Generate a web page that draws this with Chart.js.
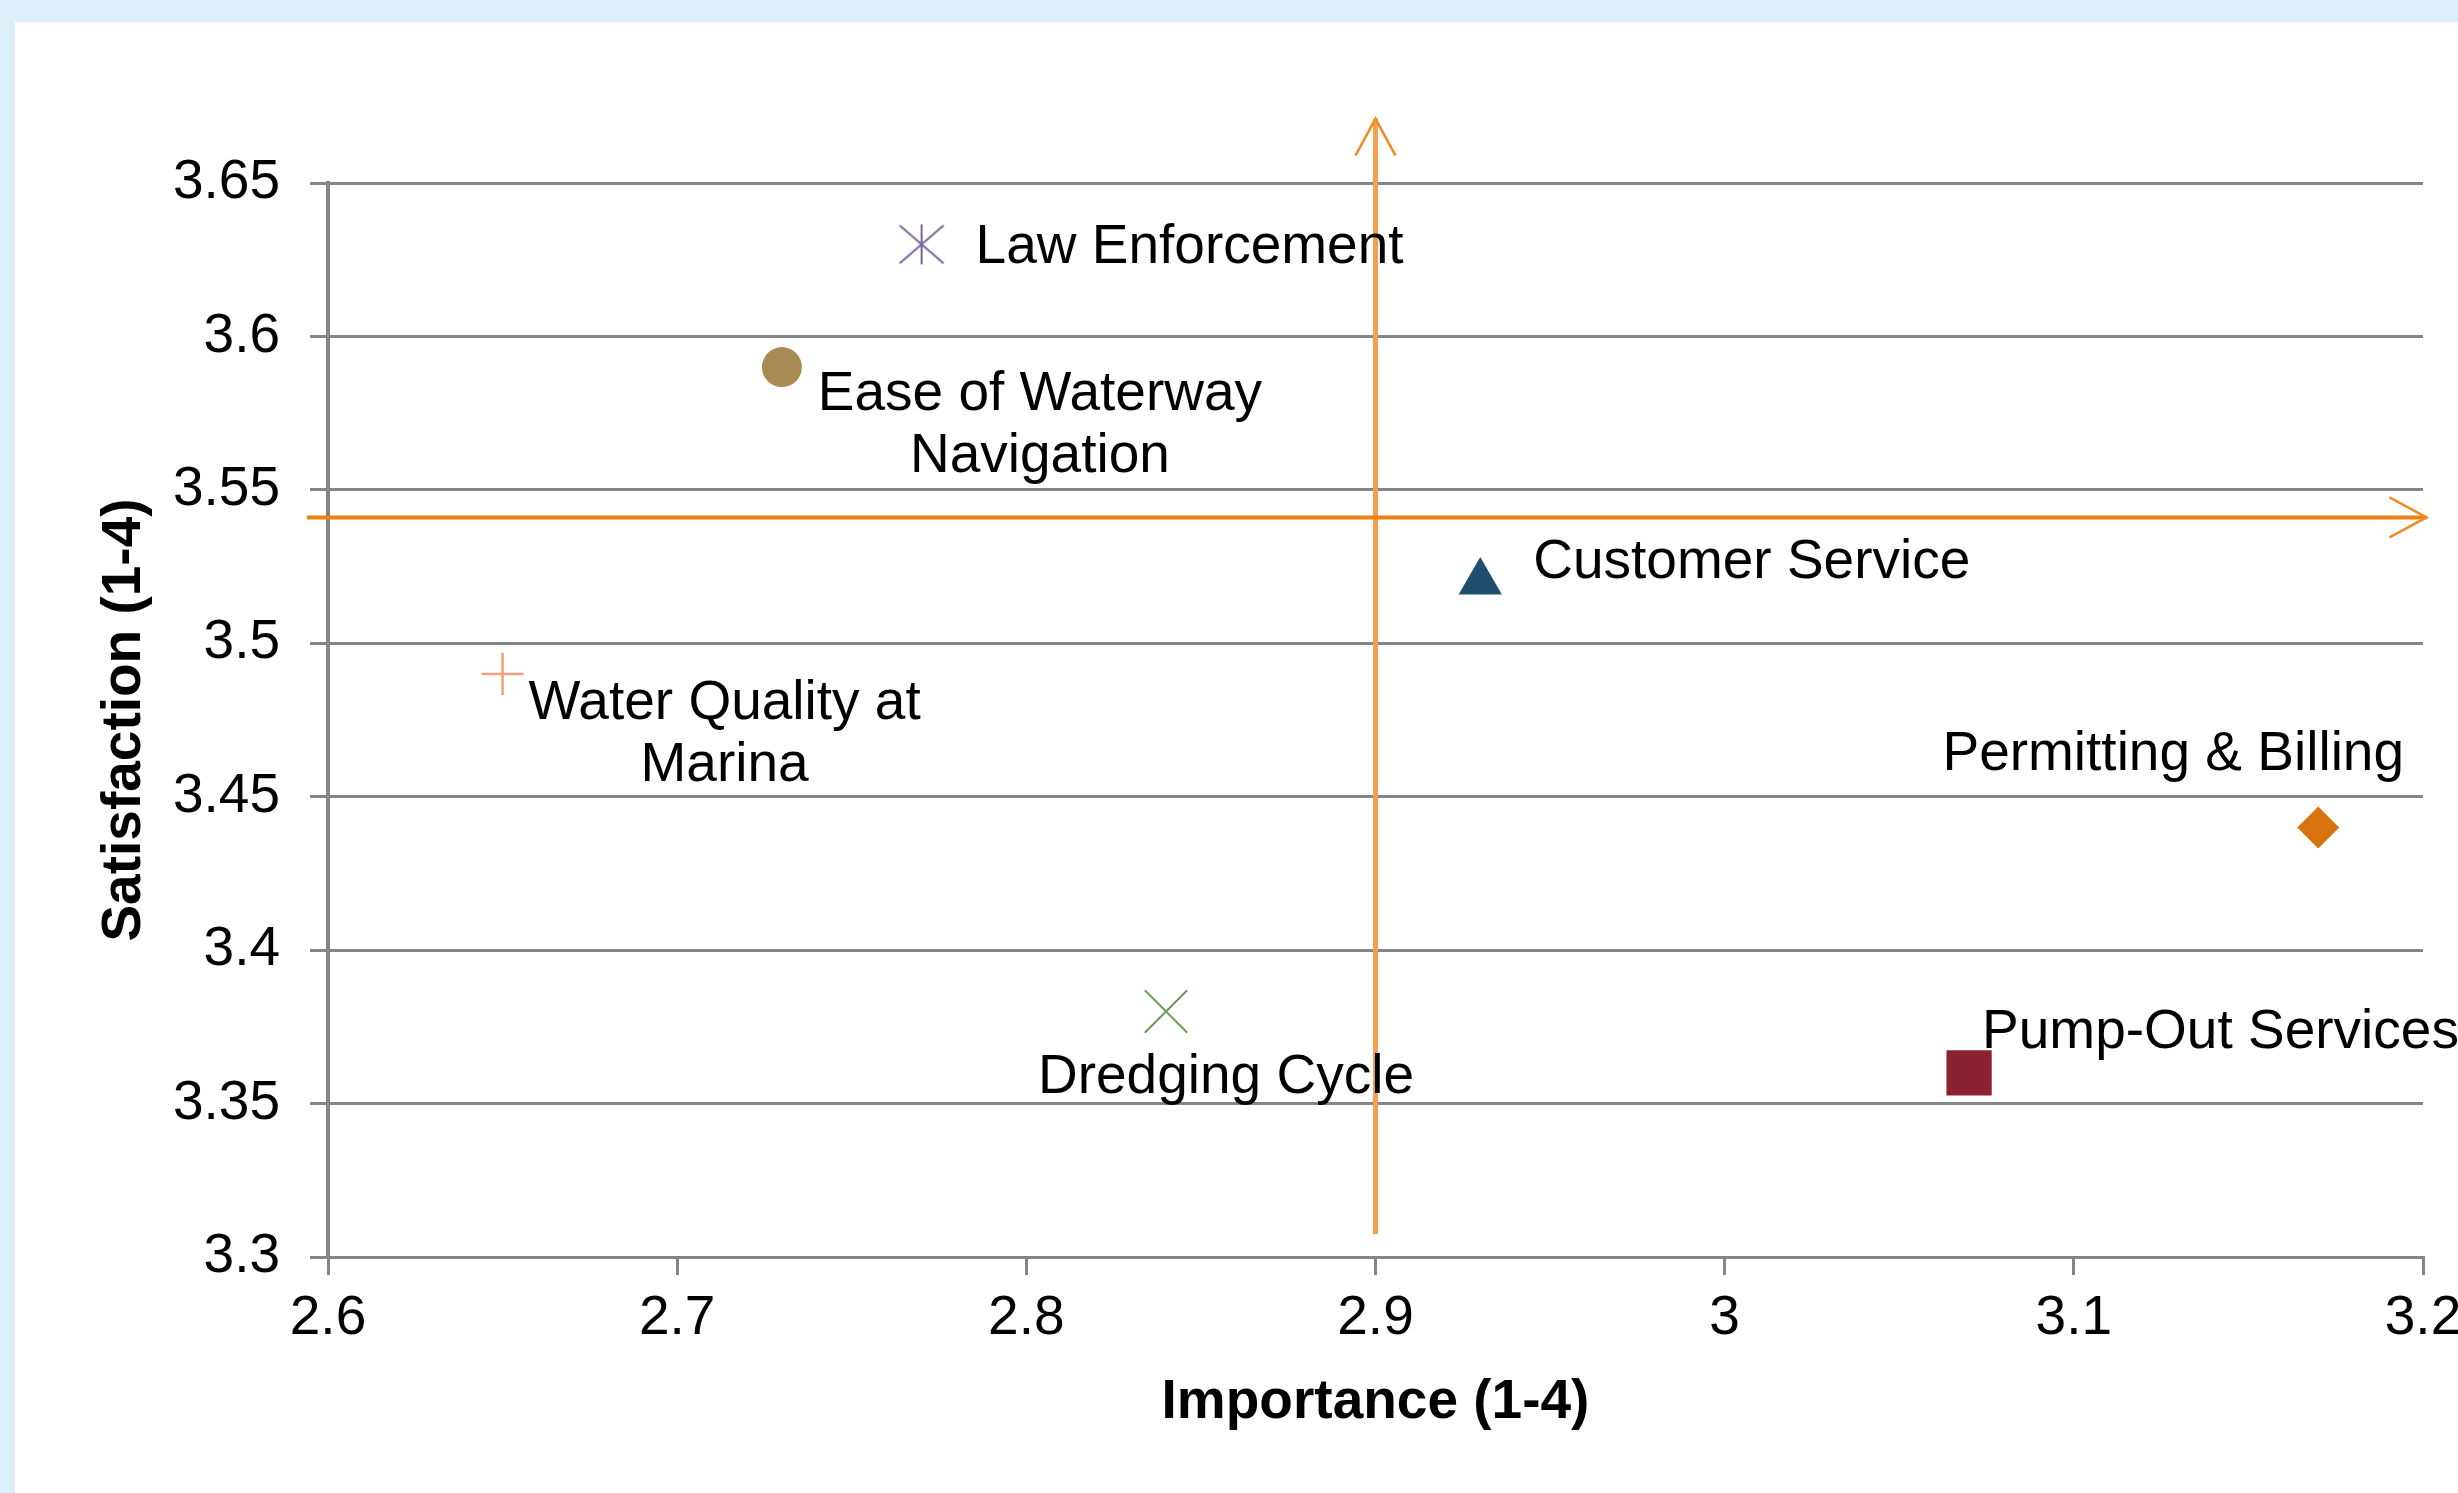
<!DOCTYPE html>
<html>
<head>
<meta charset="utf-8">
<title>Importance vs Satisfaction</title>
<script src="https://cdn.jsdelivr.net/npm/chart.js@4.4.1/dist/chart.umd.min.js"></script>
<style>
  html, body { margin: 0; padding: 0; background: #ddeefb; overflow: hidden; }
  #wrap { position: absolute; left: 15px; top: 22px; background: #fff; }
  canvas { display: block; }
</style>
</head>
<body>
<div id="wrap"><canvas id="quadChart" width="2485" height="1471"></canvas></div>
<script>
"use strict";

// survey items: importance (x) vs satisfaction (y), both on a 1-4 scale
const categories = [
  "Law Enforcement",
  "Ease of Waterway Navigation",
  "Customer Service",
  "Water Quality at Marina",
  "Permitting & Billing",
  "Dredging Cycle",
  "Pump-Out Services",
];
const importance = [2.77, 2.73, 2.93, 2.65, 3.17, 2.84, 3.07];
const satisfaction = [3.63, 3.59, 3.52, 3.49, 3.44, 3.38, 3.36];

// how each label is broken over lines
const labelLines = [
  ["Law Enforcement"],
  ["Ease of Waterway", "Navigation"],
  ["Customer Service"],
  ["Water Quality at", "Marina"],
  ["Permitting & Billing"],
  ["Dredging Cycle"],
  ["Pump-Out Services"],
];

const xTicks = [2.6, 2.7, 2.8, 2.9, 3.0, 3.1, 3.2];
const xTickLabels = ["2.6", "2.7", "2.8", "2.9", "3", "3.1", "3.2"];
const yTicks = [3.3, 3.35, 3.4, 3.45, 3.5, 3.55, 3.6, 3.65];
const yTickLabels = ["3.3", "3.35", "3.4", "3.45", "3.5", "3.55", "3.6", "3.65"];

// quadrant divider arrows
const vArrowX = 2.9;
const vArrowY = [3.3075, 3.671];
const hArrowY = 3.541;
const hArrowX = [2.594, 3.201];

//marker look
function makeAsterisk(color) {
  const c = document.createElement("canvas");
  c.width = 48;
  c.height = 42;
  const g = c.getContext("2d");
  g.strokeStyle = color;
  g.lineWidth = 2;
  g.beginPath();
  g.moveTo(24, 1);
  g.lineTo(24, 41);
  g.moveTo(2, 2);
  g.lineTo(46, 40);
  g.moveTo(46, 2);
  g.lineTo(2, 40);
  g.stroke();
  return c;
}

const markerColors = ["#76649b", "#a98a52", "#1f4e6f", "#f2a07c", "#d9730d", "#6c9a5c", "#8b2232"];
const markerStyles = [makeAsterisk(markerColors[0]), "circle", "triangle", "cross", "rectRot", "crossRot", "rect"];
const markerSizes = [21, 20, 25, 21, 21, 30, 32];
const markerLines = [0, 0, 0, 2.5, 0, 2, 0];

// label placement relative to its marker: [align, dx, first line dy]
const labelPlace = [
  ["left", 54, 3],
  ["center", 258, 28],
  ["left", 53, -19],
  ["center", 222, 30],
  ["center", -145, -73],
  ["center", 60, 66],
  ["left", 13, -40],
];
const lineGap = 62;

const fontFamily = '"Liberation Sans", Arial, Helvetica, sans-serif';
Chart.defaults.font.family = fontFamily;
Chart.defaults.font.size = 55;
Chart.defaults.color = "#000";

const gridGray = "#858585";

// draws the two orange arrows through the chart
const quadrantArrows = {
  id: "quadrantArrows",
  beforeDatasetsDraw(chart) {
    const ctx = chart.ctx;
    const x = chart.scales.x;
    const y = chart.scales.y;
    ctx.save();

    // vertical arrow
    const vx = x.getPixelForValue(vArrowX);
    const vy0 = y.getPixelForValue(vArrowY[0]);
    const vy1 = y.getPixelForValue(vArrowY[1]);
    ctx.strokeStyle = "#f5a04f";
    ctx.lineWidth = 5;
    ctx.beginPath();
    ctx.moveTo(vx, vy0);
    ctx.lineTo(vx, vy1);
    ctx.stroke();
    ctx.strokeStyle = "#f28a22";
    ctx.lineWidth = 2.5;
    ctx.beginPath();
    ctx.moveTo(vx - 20, vy1 + 37);
    ctx.lineTo(vx, vy1);
    ctx.lineTo(vx + 20, vy1 + 37);
    ctx.stroke();

    // horizontal arrow
    const hy = y.getPixelForValue(hArrowY);
    const hx0 = x.getPixelForValue(hArrowX[0]);
    const hx1 = x.getPixelForValue(hArrowX[1]);
    ctx.strokeStyle = "#f08012";
    ctx.lineWidth = 4;
    ctx.beginPath();
    ctx.moveTo(hx0, hy);
    ctx.lineTo(hx1, hy);
    ctx.stroke();
    ctx.strokeStyle = "#f28a22";
    ctx.lineWidth = 2.5;
    ctx.beginPath();
    ctx.moveTo(hx1 - 37, hy - 20);
    ctx.lineTo(hx1, hy);
    ctx.lineTo(hx1 - 37, hy + 20);
    ctx.stroke();

    ctx.restore();
  },
};

// text next to every marker
const pointLabels = {
  id: "pointLabels",
  afterDatasetsDraw(chart) {
    const ctx = chart.ctx;
    const meta = chart.getDatasetMeta(0);
    ctx.save();
    ctx.font = "55px " + fontFamily;
    ctx.fillStyle = "#000";
    ctx.textBaseline = "middle";
    meta.data.forEach((pt, i) => {
      const place = labelPlace[i];
      ctx.textAlign = place[0];
      labelLines[i].forEach((line, j) => {
        ctx.fillText(line, pt.x + place[1], pt.y + place[2] + j * lineGap);
      });
    });
    ctx.restore();
  },
};

const ctx = document.getElementById("quadChart");
new Chart(ctx, {
  type: "scatter",
  data: {
    labels: categories,
    datasets: [
      {
        label: "Items",
        data: importance.map((v, i) => ({ x: v, y: satisfaction[i] })),
        pointStyle: markerStyles,
        pointRadius: markerSizes,
        pointBackgroundColor: markerColors,
        pointBorderColor: markerColors,
        pointBorderWidth: markerLines,
        showLine: false,
        clip: false,
      },
    ],
  },
  plugins: [quadrantArrows, pointLabels],
  options: {
    responsive: false,
    devicePixelRatio: 1,
    animation: false,
    events: [],
    layout: {
      padding: { top: 161, right: 77, bottom: 0, left: 0 },
    },
    plugins: {
      legend: { display: false },
      tooltip: { enabled: false },
    },
    scales: {
      x: {
        type: "linear",
        min: 2.6,
        max: 3.2,
        afterBuildTicks: (axis) => {
          axis.ticks = xTicks.map((v) => ({ value: v }));
        },
        afterFit: (scale) => {
          scale.height = 236;
        },
        ticks: {
          padding: 11,
          maxRotation: 0,
          callback: (value, index) => xTickLabels[index],
        },
        grid: {
          drawOnChartArea: false,
          drawTicks: true,
          tickLength: 18,
          color: gridGray,
          lineWidth: 3,
        },
        border: { display: true, color: gridGray, width: 3 },
        title: {
          display: true,
          text: "Importance (1-4)",
          font: { size: 55, weight: "bold" },
          padding: { top: 0, bottom: 57 },
        },
      },
      y: {
        type: "linear",
        min: 3.3,
        max: 3.65,
        afterBuildTicks: (axis) => {
          axis.ticks = yTicks.map((v) => ({ value: v }));
        },
        afterFit: (scale) => {
          scale.width = 313;
        },
        ticks: {
          padding: 30,
          callback: (value, index) => yTickLabels[index],
        },
        grid: {
          drawTicks: true,
          tickLength: 18,
          color: gridGray,
          lineWidth: 3,
        },
        border: { display: true, color: gridGray, width: 4 },
        title: {
          display: true,
          text: "Satisfaction (1-4)",
          font: { size: 55, weight: "bold" },
          padding: { top: 77, bottom: 0 },
        },
      },
    },
  },
});
</script>
</body>
</html>
